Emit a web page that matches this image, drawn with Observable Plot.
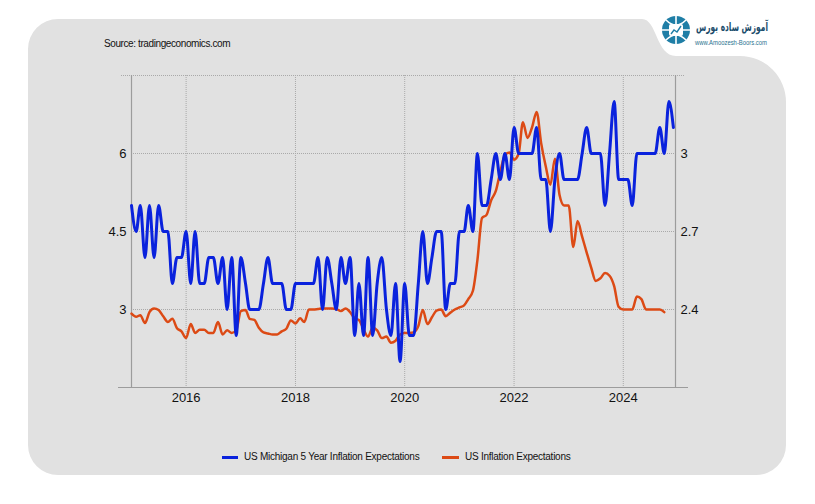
<!DOCTYPE html>
<html>
<head>
<meta charset="utf-8">
<script src="https://cdn.jsdelivr.net/npm/d3@7"></script>
<script src="https://cdn.jsdelivr.net/npm/@observablehq/plot@0.6"></script>
<style>
  html, body { margin: 0; padding: 0; background: #ffffff; width: 815px; height: 504px; overflow: hidden; }
  #bg { position: absolute; left: 0; top: 0; }
  #chart { position: absolute; left: 0; top: 0; }
  .src { position: absolute; left: 104px; top: 38px; font: 10px 'Liberation Sans', Arial, sans-serif; letter-spacing: -0.4px; color: #111; white-space: nowrap; }
  .sw { position: absolute; height: 3px; top: 456px; }
  .lt { position: absolute; top: 451px; font: 10px 'Liberation Sans', Arial, sans-serif; letter-spacing: -0.25px; color: #111; white-space: nowrap; }
  .logo { position: absolute; right: 47px; top: 20px; font: bold 12px 'DejaVu Sans', sans-serif; color: #1c4d6b; white-space: nowrap; direction: rtl; transform: scaleX(0.62); transform-origin: right center; }
</style>
</head>
<body>
<svg id="bg" width="815" height="504">
  <path d="M58,19 H642 C657,19 656,56 676,56 H740 A46,46 0 0 1 786,102 V445 A30,30 0 0 1 756,475 H58 A30,30 0 0 1 28,445 V49 A30,30 0 0 1 58,19 Z" fill="#e1e1e1"/>
  <g>
    <circle cx="676" cy="30" r="14" fill="#1f7ea6"/>
    <path d="M662,30 H690 M676,16 V44 M666,20 Q676,30 686,20 M666,40 Q676,30 686,40" stroke="#ffffff" stroke-width="1.6" fill="none"/>
    <rect x="669" y="24" width="14" height="12" rx="2" fill="#ffffff"/>
    <path d="M671,34 L674,30 L677,32 L681,26" stroke="#1f7ea6" stroke-width="1.4" fill="none"/>
    <text x="695" y="45" font-family="'Liberation Sans', Arial, sans-serif" font-size="8" fill="#2a7390" textLength="72" lengthAdjust="spacingAndGlyphs">www.Amoozesh-Boors.com</text>
  </g>
</svg>
<div class="logo">آموزش ساده بورس</div>
<div id="chart"></div>
<div class="src">Source: tradingeconomics.com</div>
<div class="sw" style="left:222px;width:16px;background:#0a22dd;"></div>
<div class="lt" style="left:244px;">US Michigan 5 Year Inflation Expectations</div>
<div class="sw" style="left:442px;width:17px;background:#dc4a15;"></div>
<div class="lt" style="left:465px;">US Inflation Expectations</div>
<script>
// Monthly data, Jan 2015 onwards
const michigan5y = [
  2.8, 2.7, 2.8, 2.6, 2.8, 2.6, 2.8, 2.7, 2.7, 2.5, 2.6, 2.6,
  2.7, 2.5, 2.7, 2.5, 2.5, 2.6, 2.6, 2.5, 2.6, 2.4, 2.6, 2.3,
  2.6, 2.5, 2.4, 2.4, 2.4, 2.5, 2.6, 2.5, 2.5, 2.5, 2.4, 2.4,
  2.5, 2.5, 2.5, 2.5, 2.5, 2.6, 2.4, 2.6, 2.5, 2.4, 2.6, 2.5,
  2.6, 2.3, 2.5, 2.3, 2.6, 2.3, 2.5, 2.6, 2.4, 2.3, 2.5, 2.2,
  2.5, 2.3, 2.3, 2.5, 2.7, 2.5, 2.6, 2.7, 2.7, 2.4, 2.5, 2.5,
  2.7, 2.7, 2.8, 2.7, 3.0, 2.8, 2.8, 2.9, 3.0, 2.9, 3.0, 2.9,
  3.1, 3.0, 3.0, 3.0, 3.0, 3.1, 2.9, 2.9, 2.7, 2.9, 3.0, 2.9,
  2.9, 2.9, 2.9, 3.0, 3.1, 3.0, 3.0, 3.0, 2.8, 3.0, 3.2, 2.9,
  2.9, 2.9, 2.8, 3.0, 3.0, 3.0, 3.0, 3.0, 3.1, 3.0, 3.2, 3.1
];
const usInflationExp = [
  2.92, 2.86, 2.89, 2.74, 2.95, 3.02, 2.99, 2.87, 2.76, 2.82, 2.64, 2.58,
  2.45, 2.72, 2.55, 2.61, 2.61, 2.55, 2.55, 2.76, 2.52, 2.60, 2.55, 2.60,
  2.97, 2.99, 2.82, 2.80, 2.65, 2.56, 2.54, 2.52, 2.52, 2.58, 2.63, 2.79,
  2.73, 2.83, 2.76, 3.00, 3.00, 3.01, 3.02, 3.02, 3.02, 3.01, 2.97, 3.02,
  2.95, 2.83, 2.80, 2.62, 2.48, 2.65, 2.60, 2.45, 2.48, 2.36, 2.40, 2.52,
  2.55, 2.55, 2.56, 2.68, 2.99, 2.72, 2.85, 2.98, 3.00, 2.87, 2.94, 3.00,
  3.04, 3.08, 3.20, 3.36, 3.95, 4.76, 4.82, 5.10, 5.28, 5.65, 5.97, 6.02,
  5.88, 6.00, 6.60, 6.30, 6.50, 6.80, 6.20, 5.75, 5.40, 5.90, 5.20, 5.00,
  5.00, 4.20, 4.70, 4.40, 4.10, 3.80, 3.55, 3.60, 3.70, 3.65, 3.45, 3.05,
  3.00, 3.00, 3.00, 3.25, 3.20, 3.00, 3.00, 3.00, 3.00, 2.95
];
const leftTicks = [3, 4.5, 6];
const rightTicks = [2.4, 2.7, 3.0];
const xTickYears = [2016, 2018, 2020, 2022, 2024];

// right axis (Michigan) expressed on the left scale
const toLeft = v => 3 + (v - 2.4) * 5;
const toRight = v => 2.4 + (v - 3) / 5;

const months = d3.utcMonth.range(new Date(Date.UTC(2015, 0, 1)), new Date(Date.UTC(2025, 0, 1)));
const blueData = michigan5y.map((v, i) => ({date: months[i], v: toLeft(v)}));
const orangeData = usInflationExp.map((v, i) => ({date: months[i], v}));
const xStart = new Date(Date.UTC(2015, 0, 1));
const xEnd = new Date(Date.UTC(2024, 11, 15));
const yearDates = xTickYears.map(y => new Date(Date.UTC(y, 0, 1)));

const grid = "#a9a9a9";
const axisC = "#9c9c9c";

const chart = Plot.plot({
  width: 815,
  height: 420,
  marginLeft: 131,
  marginRight: 140,
  marginTop: 75,
  marginBottom: 33,
  style: {fontFamily: "'Liberation Sans', Arial, sans-serif", fontSize: "13px", color: "#111", background: "transparent", overflow: "visible"},
  x: {type: "utc", domain: [xStart, xEnd]},
  y: {domain: [1.5, 7.5]},
  marks: [
    Plot.ruleY(leftTicks, {stroke: grid, strokeDasharray: "1,1", strokeWidth: 1}),
    Plot.ruleY([7.5], {stroke: grid, strokeDasharray: "1,1", strokeWidth: 1, insetLeft: -10, insetRight: -10}),
    Plot.ruleX(yearDates, {stroke: grid, strokeDasharray: "1,1", strokeWidth: 1}),
    Plot.ruleX([xStart, xEnd], {stroke: axisC, strokeWidth: 1.2}),
    Plot.ruleY([1.5], {stroke: axisC, strokeWidth: 1.2, insetLeft: -13, insetRight: -13}),
    Plot.axisX(yearDates, {tickSize: 0, tickPadding: 5, tickFormat: d => String(d.getUTCFullYear())}),
    Plot.axisY(leftTicks, {anchor: "left", tickSize: 0, tickPadding: 5, tickFormat: d => String(d), label: null}),
    Plot.axisY(rightTicks.map(toLeft), {anchor: "right", tickSize: 0, tickPadding: 5, tickFormat: d => String(+toRight(d).toFixed(1)), label: null}),
    Plot.line(orangeData, {x: "date", y: "v", stroke: "#dc4a15", strokeWidth: 2.5, curve: "monotone-x"}),
    Plot.line(blueData, {x: "date", y: "v", stroke: "#0a22dd", strokeWidth: 3, curve: "monotone-x"})
  ]
});
document.getElementById("chart").appendChild(chart);
</script>
</body>
</html>
